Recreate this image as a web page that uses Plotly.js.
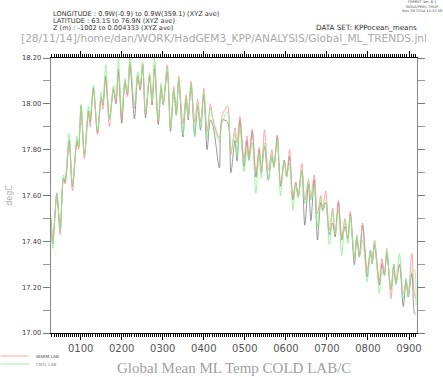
<!DOCTYPE html>
<html><head><meta charset="utf-8">
<script src="https://cdn.plot.ly/plotly-3.0.1.min.js"></script>
<style>html,body{margin:0;padding:0;background:#fff;}#chart{width:443px;height:377px;}</style>
</head><body><div id="chart"></div>
<script>
var years = [28,32,42,50,58,62,72,80,91,95,
 101,109,119,123,131,141,150,154,161,170,
 180,186,192,200,208,214,220,231,239,245,
 251,258,268,274,280,289,296,301,311,319,
 327,333,339,349,357,362,369,378,385,392,
 400,408,416,423,438,445,458,466,476,481,
 488,498,505,510,518,527,535,540,548,557,
 566,571,579,587,596,602,609,617,624,630,
 639,646,655,661,669,677,685,690,697,706,
 714,720,728,736,744,751,757,767,773,779,
 787,798,806,810,816,828,834,840,846,856,
 863,868,877,886,893,898,907,913,917];
var coldLab = [17.50,17.39,17.61,17.45,17.675,17.66,17.84,17.64,17.84,17.81,
 17.99,17.775,17.97,17.92,18.07,17.875,18.03,17.995,18.12,17.935,
 18.06,18.00,18.14,17.915,18.09,18.04,18.17,17.935,18.12,18.06,
 18.17,17.94,18.12,17.995,18.155,17.91,18.075,17.995,18.14,17.88,
 18.06,17.95,18.10,17.855,18.025,17.93,18.085,17.865,17.99,17.885,
 18.04,17.80,17.93,17.90,17.72,17.93,17.92,17.70,17.84,17.75,
 17.93,17.725,17.84,17.755,17.88,17.68,17.80,17.70,17.815,17.667,
 17.77,17.726,17.857,17.64,17.755,17.682,17.77,17.58,17.653,17.595,
 17.71,17.47,17.65,17.49,17.67,17.406,17.57,17.536,17.57,17.43,
 17.48,17.42,17.57,17.405,17.465,17.41,17.52,17.297,17.42,17.333,
 17.47,17.245,17.362,17.303,17.383,17.21,17.304,17.253,17.347,17.188,
 17.30,17.216,17.30,17.115,17.23,17.158,17.26,17.09,17.08];
var warmLab = [17.50,17.40,17.60,17.43,17.67,17.65,17.83,17.62,17.84,17.80,
 17.98,17.76,17.96,17.90,18.06,17.865,18.03,17.975,18.11,17.90,
 18.07,18.01,18.15,17.935,18.10,18.03,18.185,17.98,18.125,18.065,
 18.175,17.955,18.125,18.00,18.17,17.92,18.075,18.00,18.17,17.895,
 18.075,17.955,18.12,17.915,18.04,17.94,18.10,17.92,18.02,17.92,
 18.067,17.88,18.00,17.93,17.85,17.95,17.99,17.78,17.895,17.83,
 17.945,17.76,17.86,17.77,17.89,17.70,17.81,17.71,17.886,17.71,
 17.80,17.73,17.864,17.65,17.75,17.69,17.80,17.595,17.66,17.60,
 17.74,17.58,17.67,17.59,17.69,17.52,17.60,17.54,17.62,17.45,
 17.545,17.435,17.58,17.42,17.50,17.41,17.53,17.33,17.42,17.34,
 17.48,17.275,17.36,17.31,17.405,17.225,17.325,17.26,17.369,17.15,
 17.28,17.22,17.30,17.17,17.22,17.17,17.347,17.17,17.15];
var cntlLab = [17.50,17.37,17.61,17.45,17.69,17.67,17.87,17.645,17.86,17.81,
 18.00,17.775,17.99,17.93,18.08,17.88,18.05,18.00,18.17,17.93,
 18.08,18.02,18.20,17.96,18.11,18.05,18.205,17.995,18.14,18.075,
 18.185,17.96,18.135,18.01,18.20,17.93,18.09,17.995,18.16,17.89,
 18.065,17.95,18.11,17.865,18.03,17.94,18.09,17.855,18.00,17.895,
 18.05,17.85,17.98,17.92,17.835,17.92,17.965,17.79,17.87,17.77,
 17.90,17.705,17.80,17.75,17.83,17.61,17.785,17.675,17.83,17.667,
 17.78,17.72,17.84,17.60,17.75,17.68,17.74,17.535,17.65,17.59,
 17.71,17.565,17.66,17.58,17.64,17.465,17.59,17.53,17.57,17.385,
 17.53,17.43,17.535,17.34,17.49,17.39,17.51,17.33,17.43,17.33,
 17.405,17.223,17.36,17.30,17.40,17.173,17.27,17.25,17.36,17.188,
 17.30,17.21,17.347,17.15,17.24,17.16,17.27,17.275,17.12];
var xTickVals = [100,200,300,400,500,600,700,800,900];
var xTickText = ['0100','0200','0300','0400','0500','0600','0700','0800','0900'];
var seriesNames = ['COLD LAB','WARM LAB','CNTL LAB'];
var seriesColors = ['rgb(125,125,125)','rgb(255,145,145)','rgb(135,240,135)'];

var ys = [coldLab, warmLab, cntlLab];
var traces = ys.map(function(v,i){
  return {x: years, y: v, type:'scatter', mode:'lines', name: seriesNames[i],
    line:{color: seriesColors[i], width:0.8, shape:'spline', smoothing:0.8}, hoverinfo:'skip'};
});

var hdrFont = {family:'DejaVu Sans', size:6.6, color:'#333'};
var layout = {
  width:443, height:377, showlegend:false,
  paper_bgcolor:'#fff', plot_bgcolor:'#fff',
  margin:{l:50.5, r:26.3, t:58, b:44, pad:0},
  xaxis:{range:[27.7,919.5], tickvals:xTickVals, ticktext:xTickText,
    showgrid:false, zeroline:false, showline:true, linecolor:'#000', linewidth:1,
    mirror:'allticks', ticks:'outside', ticklen:6, tickcolor:'#000', tickwidth:1,
    minor:{dtick:5, tick0:0, ticks:'outside', ticklen:3, tickcolor:'#000', tickwidth:1, showgrid:false},
    tickfont:{family:'DejaVu Sans', size:10, color:'#555'}},
  yaxis:{range:[17.0,18.2], dtick:0.2, tick0:17, tickformat:'.2f',
    showgrid:false, zeroline:false, showline:true, linecolor:'#888', linewidth:1.2,
    mirror:'allticks', ticks:'outside', ticklen:7, tickcolor:'#777', tickwidth:1,
    minor:{dtick:0.1, ticks:'outside', ticklen:7, tickcolor:'#999', tickwidth:1, showgrid:false},
    tickfont:{family:'DejaVu Sans', size:6.8, color:'#444'},
    title:{text:'degC', font:{family:'DejaVu Sans', size:8, color:'#aaa'}, standoff:8}},
  annotations:[
    {xref:'paper', yref:'paper', x:0, y:1, xanchor:'left', yanchor:'middle', xshift:0, yshift:44,
      text:'LONGITUDE : 0.9W(-0.9) to 0.9W(359.1) (XYZ ave)', showarrow:false, font:hdrFont},
    {xref:'paper', yref:'paper', x:0, y:1, xanchor:'left', yanchor:'middle', yshift:37.5,
      text:'LATITUDE : 63.1S to 76.9N (XYZ ave)', showarrow:false, font:hdrFont},
    {xref:'paper', yref:'paper', x:0, y:1, xanchor:'left', yanchor:'middle', yshift:30.5,
      text:'Z (m) : -1002 to 0.004333 (XYZ ave)', showarrow:false, font:hdrFont},
    {xref:'paper', yref:'paper', x:1, y:1, xanchor:'right', yanchor:'middle', yshift:30.5, xshift:2,
      text:'DATA SET: KPPocean_means', showarrow:false, font:{family:'DejaVu Sans', size:7.2, color:'#333'}},
    {xref:'paper', yref:'paper', x:0.5, y:1, xanchor:'center', yanchor:'middle', yshift:19.5, xshift:-10,
      text:'[28/11/14]/home/dan/WORK/HadGEM3_KPP/ANALYSIS/Global_ML_TRENDS.jnl', showarrow:false,
      font:{family:'DejaVu Sans', size:10.6, color:'#aaa'}},
    {xref:'paper', yref:'paper', x:1, y:1, xanchor:'center', yanchor:'middle', yshift:56, xshift:5,
      text:'FERRET Ver. 6.1', showarrow:false, font:{family:'DejaVu Sans', size:3.6, color:'#555'}},
    {xref:'paper', yref:'paper', x:1, y:1, xanchor:'center', yanchor:'middle', yshift:51.5, xshift:5,
      text:'NOAA/PMEL TMAP', showarrow:false, font:{family:'DejaVu Sans', size:3.6, color:'#555'}},
    {xref:'paper', yref:'paper', x:1, y:1, xanchor:'center', yanchor:'middle', yshift:47, xshift:5,
      text:'Nov 28 2014 15:52:58', showarrow:false, font:{family:'DejaVu Sans', size:3.6, color:'#555'}},
    {xref:'paper', yref:'paper', x:0.5, y:0, xanchor:'center', yanchor:'middle', yshift:-35, xshift:0,
      text:'Global Mean ML Temp COLD LAB/C', showarrow:false,
      font:{family:'Liberation Serif', size:15, color:'#a0a0a0'}},
    {xref:'paper', yref:'paper', x:0, y:0, xanchor:'left', yanchor:'middle', xshift:-17, yshift:-23,
      text:seriesNames[1], showarrow:false, font:{family:'DejaVu Sans', size:4.2, color:'#444'}},
    {xref:'paper', yref:'paper', x:0, y:0, xanchor:'left', yanchor:'middle', xshift:-17, yshift:-31,
      text:seriesNames[2], showarrow:false, font:{family:'DejaVu Sans', size:4.2, color:'#888'}}
  ],
  shapes:[
    {type:'line', xref:'paper', yref:'paper', x0:-50.5/366.2, x1:-22/366.2, y0:-23/275, y1:-23/275,
      line:{color:seriesColors[1], width:0.8}},
    {type:'line', xref:'paper', yref:'paper', x0:-50.5/366.2, x1:-22/366.2, y0:-31/275, y1:-31/275,
      line:{color:seriesColors[2], width:0.8}}
  ]
};
Plotly.newPlot('chart', traces, layout, {staticPlot:true, displayModeBar:false});
</script></body></html>
